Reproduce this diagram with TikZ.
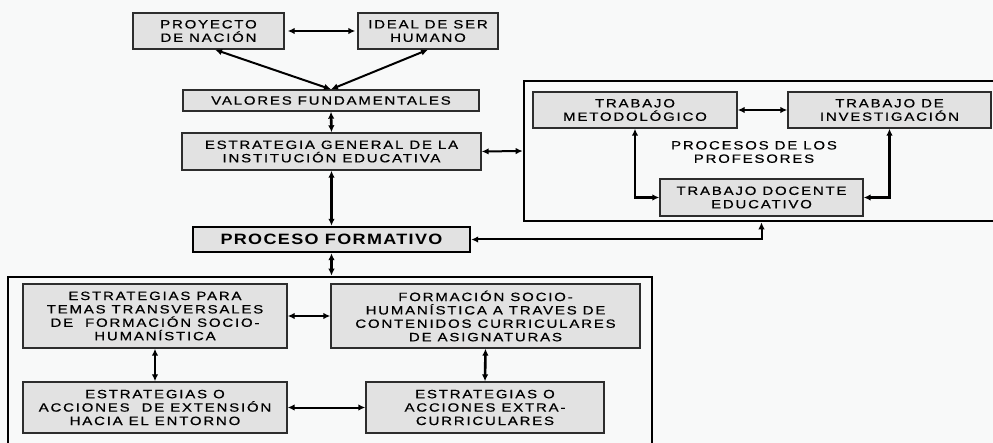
\documentclass[tikz,border=0pt]{standalone}
\usepackage{fontspec}
\usetikzlibrary{arrows.meta,calc}
\newfontfamily\diagfont{Liberation Sans}[FakeStretch=1.25,LetterSpace=15,FakeBold=0.6]
\newfontfamily\diagbold{Liberation Sans Bold}[FakeStretch=1.2,LetterSpace=9]
\definecolor{boxfill}{RGB}{226,226,226}
\definecolor{bgcol}{RGB}{248,249,249}
\definecolor{edgecol}{RGB}{45,45,45}
\begin{document}
\begin{tikzpicture}[x=1pt,y=-1pt,
  box/.style={draw=edgecol,line width=1.4pt,fill=boxfill,inner sep=0pt,align=center,
    font=\diagfont\fontsize{12}{13.4}\selectfont},
  mainbox/.style={box,draw=black,line width=2.4pt,font=\diagbold\fontsize{15}{16}\selectfont},
  frame/.style={draw=black,line width=2.6pt,inner sep=0pt},
  plain/.style={inner sep=0pt,align=center,font=\diagfont\fontsize{12}{13.4}\selectfont},
  link/.style={draw=black,line width=2pt,{Latex[length=7pt,width=6.5pt]}-{Latex[length=7pt,width=6.5pt]}},
  vlink/.style={link,line width=2.6pt}]
\fill[bgcol] (0,0) rectangle (993,443);
\useasboundingbox (0,0) rectangle (993,443);
\clip (0,0) rectangle (993,443);

% frames
\node[frame,minimum width=481,minimum height=140] (rbox) at (764.5,151) {};
\node[frame,minimum width=644,minimum height=183] (bbox) at (330,368.5) {};

% top column
\node[box,minimum width=151,minimum height=36] (proy) at (208.5,31) {PROYECTO\\DE NACIÓN};
\node[box,minimum width=140,minimum height=36] (ideal) at (428,31) {IDEAL DE SER\\HUMANO};
\node[box,minimum width=296,minimum height=21] (valores) at (331,100.5) {VALORES FUNDAMENTALES};
\node[box,minimum width=299,minimum height=37] (estr) at (331.5,151.5) {ESTRATEGIA GENERAL DE LA\\INSTITUCIÓN EDUCATIVA};
\node[mainbox,minimum width=277,minimum height=25] (proc) at (331.5,239.5) {PROCESO FORMATIVO};

% right frame contents
\node[box,minimum width=204,minimum height=36] (metod) at (635,110) {TRABAJO\\METODOLÓGICO};
\node[box,minimum width=203,minimum height=36] (invest) at (889.5,110) {TRABAJO DE\\INVESTIGACIÓN};
\node[box,minimum width=203,minimum height=37] (docente) at (761.5,197.5) {TRABAJO DOCENTE\\EDUCATIVO};
\node[plain] (proflabel) at (754,152) {PROCESOS DE LOS\\PROFESORES};

% bottom frame contents
\node[box,minimum width=264,minimum height=64] (estpara) at (155,316) {ESTRATEGIAS PARA\\TEMAS TRANSVERSALES\\DE\ \ FORMACIÓN SOCIO-\\HUMANÍSTICA};
\node[box,minimum width=309,minimum height=64] (formac) at (485.5,316) {FORMACIÓN SOCIO-\\HUMANÍSTICA A TRAVES DE\\CONTENIDOS CURRICULARES\\DE ASIGNATURAS};
\node[box,minimum width=264,minimum height=51] (esto) at (155,407.5) {ESTRATEGIAS O\\ACCIONES\ \ DE EXTENSIÓN\\HACIA EL ENTORNO};
\node[box,minimum width=238,minimum height=51] (extra) at (485,407.5) {ESTRATEGIAS O\\ACCIONES EXTRA-\\CURRICULARES};

% connectors
\coordinate (proyfoot) at ($(proy.south west)!0.543!(proy.south east)$);
\coordinate (rbfoot) at (docente.south |- rbox.south);
\draw[link,shorten <=3pt,shorten >=2pt] (proy.east) -- (ideal.west);
\draw[link] (proyfoot) -- (valores.north);
\draw[link] (ideal.south) -- (valores.north);
\draw[vlink] (valores.south) -- (estr.north);
\draw[vlink] (estr.south) -- (proc.north);
\draw[link] (estr.east) -- (rbox.west);
\draw[link] (metod.east) -- (invest.west);
\draw[vlink] (metod.south) |- (docente.west);
\draw[vlink] (invest.south) |- (docente.east);
\draw[link] (proc.east) -| (rbfoot);
\draw[vlink] (proc.south) -- (proc.south |- bbox.north);
\draw[link] (estpara.east) -- (formac.west);
\draw[vlink] (estpara.south) -- (esto.north);
\draw[vlink] (formac.south) -- (extra.north);
\draw[link] (esto.east) -- (extra.west);
\end{tikzpicture}
\end{document}
